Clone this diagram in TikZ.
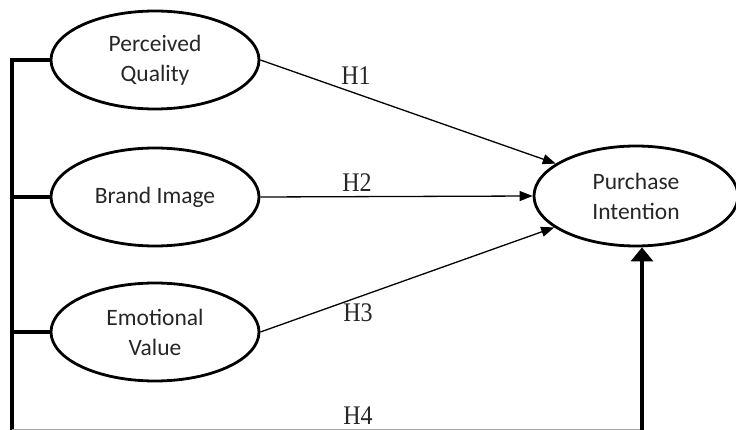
\documentclass[tikz,border=0pt]{standalone}
\usepackage{fontspec}
\setmainfont{Carlito}
\newfontfamily\hfont{Liberation Serif}
\usetikzlibrary{shapes.geometric,arrows.meta}
\begin{document}
\begin{tikzpicture}[x=1pt,y=-1pt,
  construct/.style={ellipse,draw,line width=2.8pt,minimum width=208pt,minimum height=98pt,inner sep=0pt,align=center,text=black!85,font=\fontsize{23.5}{30}\selectfont},
  hyp/.style={line width=1.3pt,-{Triangle[length=13pt,width=10pt]}},
  bar/.style={line width=4pt},
  barhead/.style={line width=4pt,-{Triangle[length=14pt,width=22pt]}},
  hlabel/.style={text=black!85,font=\hfont\fontsize{24}{24}\selectfont,inner sep=0pt}]
\useasboundingbox (0,0) rectangle (736,430);
\node[construct] (pq) at (155,60) {Perceived\\Quality};
\node[construct] (bi) at (155,197) {Brand Image};
\node[construct] (ev) at (155,332) {Emotional\\Value};
\node[construct,minimum width=204pt,minimum height=100pt] (pi) at (636,196) {Purchase\\Intention};
\coordinate (top) at (12,58);
\coordinate (bl) at (12,432);
\coordinate (br) at (642,432);
\coordinate (gl) at (12,429.5);
\coordinate (gr) at (642,429.5);
\draw[bar] (top) -- (bl);
\draw[bar] (top |- pq.west) -- (pq.west);
\draw[bar] (top |- bi.west) -- (bi.west);
\draw[bar] (top |- ev.west) -- (ev.west);
\draw[black!35,line width=1.2pt] (gl) -- (gr);
\draw[barhead] (br) -- (pi.south -| br);
\draw[hyp] (pq.east) -- (pi.158);
\draw[hyp] (bi.east) -- (pi.west);
\draw[hyp] (ev.east) -- (pi.201);
\node[hlabel] (h1) at (356,76) {\scalebox{1}[1.12]{H1}};
\node[hlabel] (h2) at (357,183) {\scalebox{1}[1.12]{H2}};
\node[hlabel] (h3) at (358,313) {\scalebox{1}[1.12]{H3}};
\node[hlabel] (h4) at (358,416) {\scalebox{1}[1.12]{H4}};
\end{tikzpicture}
\end{document}
